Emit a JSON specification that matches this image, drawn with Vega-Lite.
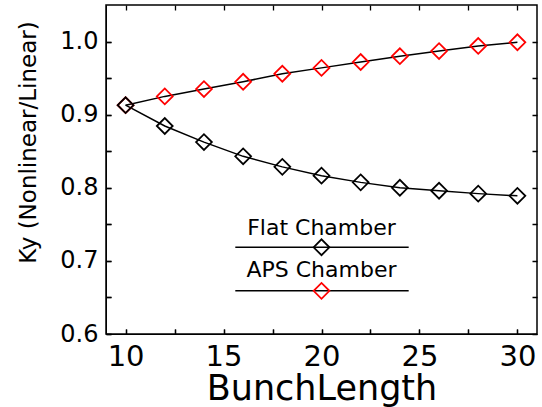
{
  "$schema": "https://vega.github.io/schema/vega-lite/v6.json",
  "width": 431,
  "height": 329,
  "autosize": {"type": "none"},
  "padding": {"left": 106, "top": 5, "right": 5, "bottom": 73},
  "background": "white",
  "config": {
    "view": {"stroke": "black", "strokeWidth": 1.5},
    "font": "DejaVu Sans"
  },
  "datasets": {
    "curves": [
      {"series": "APS Chamber", "x": 10, "y": 0.913},
      {"series": "APS Chamber", "x": 12, "y": 0.925},
      {"series": "APS Chamber", "x": 14, "y": 0.935},
      {"series": "APS Chamber", "x": 16, "y": 0.945},
      {"series": "APS Chamber", "x": 18, "y": 0.956},
      {"series": "APS Chamber", "x": 20, "y": 0.964},
      {"series": "APS Chamber", "x": 22, "y": 0.972},
      {"series": "APS Chamber", "x": 24, "y": 0.980},
      {"series": "APS Chamber", "x": 26, "y": 0.987},
      {"series": "APS Chamber", "x": 28, "y": 0.994},
      {"series": "APS Chamber", "x": 30, "y": 0.999},
      {"series": "Flat Chamber", "x": 10, "y": 0.913},
      {"series": "Flat Chamber", "x": 12, "y": 0.8845},
      {"series": "Flat Chamber", "x": 14, "y": 0.8625},
      {"series": "Flat Chamber", "x": 16, "y": 0.843},
      {"series": "Flat Chamber", "x": 18, "y": 0.8286},
      {"series": "Flat Chamber", "x": 20, "y": 0.8166},
      {"series": "Flat Chamber", "x": 22, "y": 0.8074},
      {"series": "Flat Chamber", "x": 24, "y": 0.800},
      {"series": "Flat Chamber", "x": 26, "y": 0.796},
      {"series": "Flat Chamber", "x": 28, "y": 0.792},
      {"series": "Flat Chamber", "x": 30, "y": 0.789}
    ],
    "legend": [
      {"series": "Flat Chamber", "xs": 15.6, "xe": 24.45, "cx": 20, "ly": 0.7186, "ty": 0.7355},
      {"series": "APS Chamber", "xs": 15.6, "xe": 24.45, "cx": 20, "ly": 0.659, "ty": 0.678}
    ]
  },
  "layer": [
    {
      "data": {"name": "curves"},
      "mark": {"type": "line", "color": "black", "strokeWidth": 1.5},
      "encoding": {
        "detail": {"field": "series"},
        "x": {
          "field": "x", "type": "quantitative",
          "scale": {"domain": [9, 31], "nice": false, "zero": false},
          "axis": {
            "title": "BunchLength",
            "titleFontSize": 35,
            "titleFontWeight": "normal",
            "titleColor": "black",
            "titlePadding": 0,
            "labelFontSize": 29,
            "labelColor": "black",
            "labelPadding": 13,
            "domainColor": "black",
            "tickColor": "black",
            "tickWidth": 1.3,
            "tickSize": -5,
            "grid": true,
            "gridColor": "black",
            "gridOpacity": 1,
            "gridWidth": 1.3,
            "gridDash": [5, 319],
            "values": [10, 12.5, 15, 17.5, 20, 22.5, 25, 27.5, 30],
            "labelExpr": "datum.value % 5 == 0 ? datum.label : ''"
          }
        },
        "y": {
          "field": "y", "type": "quantitative",
          "scale": {"domain": [0.6, 1.05], "nice": false, "zero": false},
          "axis": {
            "title": "Ky (Nonlinear/Linear)",
            "titleFontSize": 23,
            "titleFontWeight": "normal",
            "titleColor": "black",
            "titleX": -78,
            "titleY": 137,
            "titleAngle": -90,
            "titleAlign": "center",
            "titleBaseline": "middle",
            "labelFontSize": 24,
            "labelColor": "black",
            "labelPadding": 13,
            "domainColor": "black",
            "tickColor": "black",
            "tickWidth": 1.3,
            "tickSize": -5,
            "grid": true,
            "gridColor": "black",
            "gridOpacity": 1,
            "gridWidth": 1.3,
            "gridDash": [5, 421],
            "values": [0.6, 0.65, 0.7, 0.75, 0.8, 0.85, 0.9, 0.95, 1.0],
            "labelExpr": "round(datum.value * 100) % 10 == 0 ? format(datum.value, '.1f') : ''"
          }
        }
      }
    },
    {
      "data": {"name": "curves"},
      "mark": {"type": "point", "shape": "diamond", "size": 250, "strokeWidth": 1.8, "filled": false, "opacity": 1},
      "encoding": {
        "x": {"field": "x", "type": "quantitative"},
        "y": {"field": "y", "type": "quantitative"},
        "color": {"field": "series", "type": "nominal", "scale": {"domain": ["Flat Chamber", "APS Chamber"], "range": ["black", "#ff0000"]}, "legend": null},
        "order": {"field": "series", "sort": "ascending"}
      }
    },
    {
      "data": {"name": "legend"},
      "mark": {"type": "rule", "color": "black", "strokeWidth": 1.5},
      "encoding": {
        "x": {"field": "xs", "type": "quantitative"},
        "x2": {"field": "xe"},
        "y": {"field": "ly", "type": "quantitative"}
      }
    },
    {
      "data": {"name": "legend"},
      "mark": {"type": "point", "shape": "diamond", "size": 250, "strokeWidth": 1.8, "filled": false, "opacity": 1},
      "encoding": {
        "x": {"field": "cx", "type": "quantitative"},
        "y": {"field": "ly", "type": "quantitative"},
        "color": {"field": "series", "type": "nominal", "scale": {"domain": ["Flat Chamber", "APS Chamber"], "range": ["black", "#ff0000"]}, "legend": null}
      }
    },
    {
      "data": {"name": "legend"},
      "mark": {"type": "text", "color": "black", "fontSize": 22, "align": "center", "baseline": "alphabetic", "font": "DejaVu Sans"},
      "encoding": {
        "x": {"field": "cx", "type": "quantitative"},
        "y": {"field": "ty", "type": "quantitative"},
        "text": {"field": "series"}
      }
    }
  ]
}
